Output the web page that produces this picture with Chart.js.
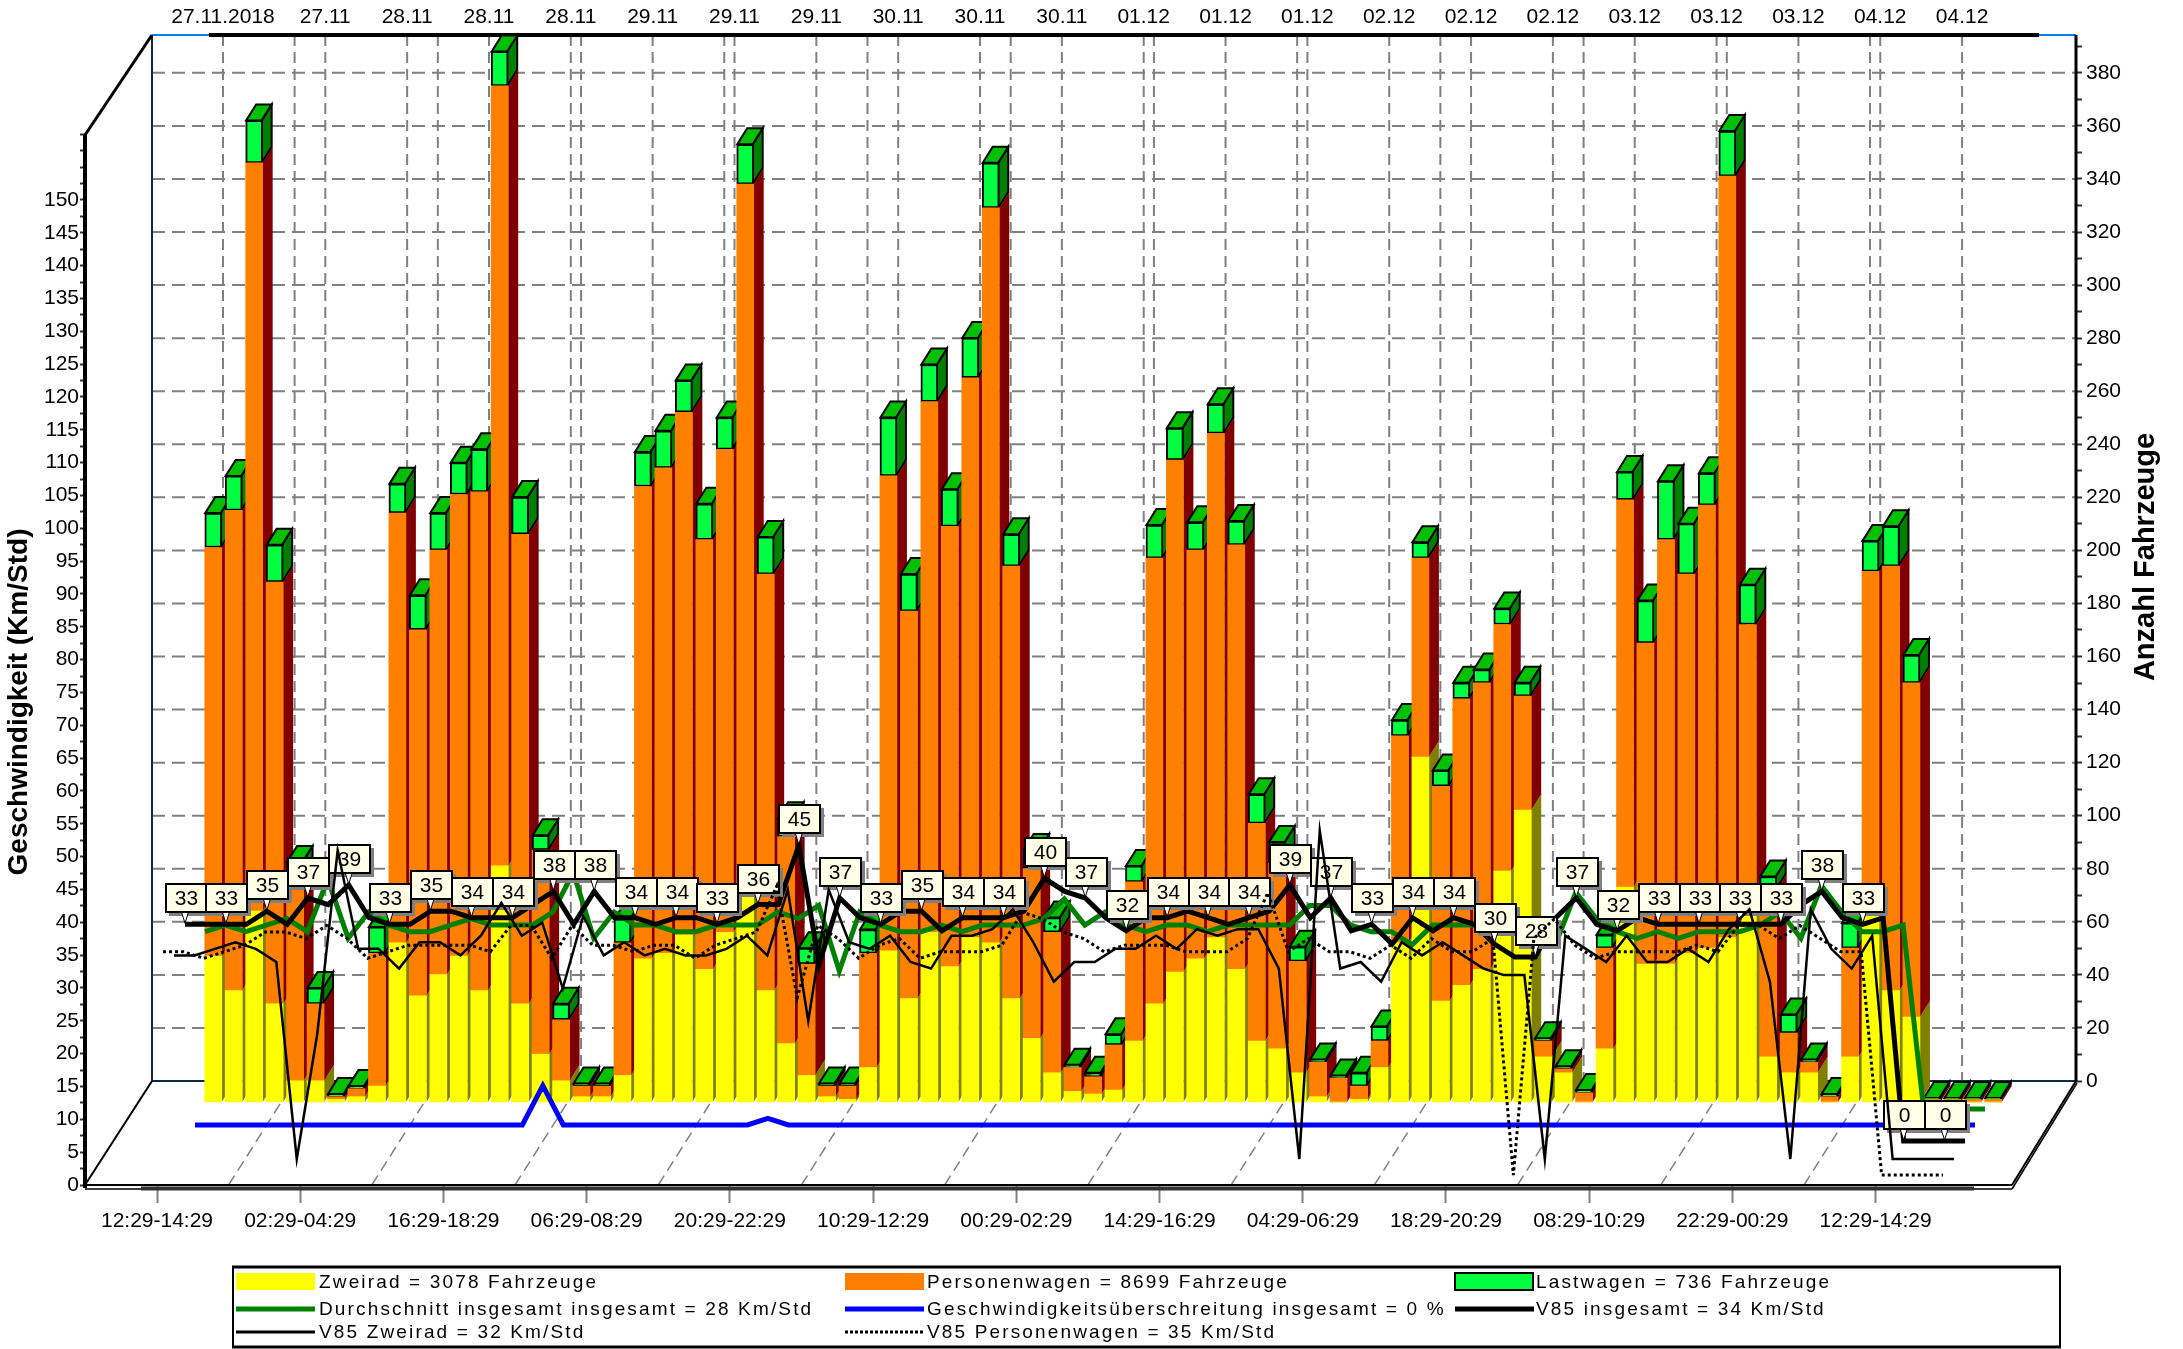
<!DOCTYPE html>
<html><head><meta charset="utf-8">
<style>html,body{margin:0;padding:0;background:#fff}canvas{display:block}</style>
<script src="https://cdn.jsdelivr.net/npm/chart.js@4"></script>
</head><body><canvas id="c" width="2183" height="1349"></canvas>
<script>
const timeTickLabels=["12:29-14:29","02:29-04:29","16:29-18:29","06:29-08:29","20:29-22:29","10:29-12:29","00:29-02:29","14:29-16:29","04:29-06:29","18:29-20:29","08:29-10:29","22:29-00:29","12:29-14:29"];
const dateTickLabels=["27.11.2018","27.11","28.11","28.11","28.11","29.11","29.11","29.11","30.11","30.11","30.11","01.12","01.12","01.12","02.12","02.12","02.12","03.12","03.12","03.12","04.12","04.12"];
const dateTickSlots=[0,5,9,13,17,21,25,29,33,37,41,45,49,53,57,61,65,69,73,77,81,85];
const zweirad=[55,42,72,37,8,8,1,2,6,60,40,48,55,42,89,37,18,8,2,2,10,54,56,63,50,64,78,42,22,10,2,1,13,57,39,64,51,62,60,39,24,11,4,3,4.5,23,37,49,54,62,50,23,20,11,2,0,1,13,60,130,38,44,50,87,110,17,11,0,20,81,52,52,56,58,62,70,17,11,11,0,17,70,42,32,0,0,0,0];
const personenwagen=[154,181,282,159,73,29,1,3,50,162,138,160,174,188,294,177,77,23,4,4,50,178,183,197,162,182,268,157,78,42,4,5,43,179,146,200,166,211,277,163,64,53,9,6.5,17,60,168,193,154,190,160,82,70,42,13,9,5,10,78,75,81,108,108,93,43,6,1.5,3.5,38,146,121,160,143,167,287,110,63,15,4,2,41,130,160,126,1,1,1,1];
const lastwagen=[13,13,16,14,9.5,6,1,1,10,11,13,14,12,16,13,14,5.5,6,1,1,9,13,14,12,13.5,12,15,14,7,6,1,1,9,22,14,14,14,15,17,12,7,5.5,1,1.5,4,6,12.5,12,10.5,11,9,11,8,5.5,1,1,5,5.5,6,6,6,6,5,6,5,1,1,1,5,10.5,16,22,19,12,17,15,5,7,1,1,9.5,11.5,15,10.5,0.5,0.5,0.5,0.5];
const durchschnitt=[27,28,27,28,29,27,35,26,30,28,27,27,28,29,28,28,28,30,36,26,30,28,28,27,27,28,28,28,30,29,31,21,30,28,27,27,28,27,28,28,28,29,32,28,30,28,27,28,28,27,28,28,28,28,31,31,28,27,27,25,28,28,28,28,27,27,25,33,29,27,26,27,26,27,27,27,28,30,26,34,30,27,27,28,0,0,0,0];
const ueberschreitung=[0,0,0,0,0,0,0,0,0,0,0,0,0,0,0,0,0,6,0,0,0,0,0,0,0,0,0,0,1,0,0,0,0,0,0,0,0,0,0,0,0,0,0,0,0,0,0,0,0,0,0,0,0,0,0,0,0,0,0,0,0,0,0,0,0,0,0,0,0,0,0,0,0,0,0,0,0,0,0,0,0,0,0,0,0,0,0,0];
const v85Gesamt=[33,33,33,33,35,33,37,36,39,34,33,33,35,35,34,34,34,36,38,33,38,34,34,33,34,34,33,34,36,36,45,27,37,34,33,35,35,32,34,34,34,35,40,38,37,34,32,34,34,35,34,33,34,35,39,34,37,32,33,30,34,32,34,33,30,28,28,34,37,33,32,34,33,33,33,33,33,33,33,36,38,34,33,34,0,0,0,0];
const v85Zweirad=[31,31,32,33,32,30,0,19,47,32,32,29,33,33,31,34,39,34,36,26,37,31,33,31,32,31,31,32,34,31,41,21,41,33,32,34,30,29,34,34,35,38,33,27,30,30,32,32,34,32,35,34,35,35,29,0,50,29,30,27,33,31,33,31,29,28,28,0,34,32,30,34,30,30,32,30,35,38,27,0,38,32,29,34,0,0,0,0];
const v85Personenwagen=[34,34,33,34,35,37,37,36,38,36,33,34,35,35,35,35,34,38,38,33,38,35,35,34,35,35,33,35,36,37,44,27,38,36,33,35,36,33,34,34,34,35,40,39,37,36,34,35,35,35,34,34,34,36,43,34,36,34,34,33,35,33,36,34,34,36,0,36,39,35,33,34,34,34,34,35,34,38,38,36,38,36,34,34,0,0,0,0];
const legendLabels=["Zweirad = 3078 Fahrzeuge","Personenwagen = 8699 Fahrzeuge","Lastwagen = 736 Fahrzeuge","Durchschnitt insgesamt insgesamt = 28 Km/Std","Geschwindigkeitsüberschreitung insgesamt = 0 %","V85 insgesamt = 34 Km/Std","V85 Zweirad = 32 Km/Std","V85 Personenwagen = 35 Km/Std"];
const leftAxisTitle="Geschwindigkeit (Km/Std)", rightAxisTitle="Anzahl Fahrzeuge";

const FONT='"Liberation Sans", Arial, sans-serif';
const AREA={l:85,r:2076,t:35,b:1185};
const SLOT=20.46, PXKM=6.567, PXN=2.653;
const pts=a=>a.map((y,x)=>({x,y}));
// hidden scales: same chart area, each series layer sits at its own depth
function xLayer(x0){return {type:'linear',display:false,offset:false,grid:{offset:false},min:(AREA.l-x0)/SLOT,max:(AREA.r-x0)/SLOT};}
function yLayer(y0,k){return {type:'linear',display:false,min:(y0-AREA.b)/k,max:(y0-AREA.t)/k};}
const lineDs=(label,data,ax,color,w,order,dash)=>({type:'line',label,data:pts(data),xAxisID:'x'+ax,yAxisID:'y'+ax,borderColor:color,backgroundColor:color,borderWidth:w,pointRadius:0,tension:0,fill:false,order,borderDash:dash||[],borderJoinStyle:'miter',borderCapStyle:'butt',clip:false});
const barDs=(label,data,color,order,bw,th)=>({type:'bar',label,data:pts(data),xAxisID:'xB',yAxisID:'yB',backgroundColor:color,borderColor:'#000',borderWidth:bw,borderSkipped:false,grouped:false,barPercentage:1,categoryPercentage:1,maxBarThickness:th,order,stack:'s'});

const DX=10,DY=16;
function poly(ctx,p,fill,stroke){ctx.beginPath();p.forEach((q,i)=>i?ctx.lineTo(q[0],q[1]):ctx.moveTo(q[0],q[1]));ctx.closePath();if(fill){ctx.fillStyle=fill;ctx.fill();}if(stroke){ctx.strokeStyle=stroke;ctx.lineWidth=2;ctx.stroke();}}
function line(ctx,x1,y1,x2,y2,c,w,dash){ctx.save();ctx.beginPath();ctx.setLineDash(dash||[]);ctx.strokeStyle=c;ctx.lineWidth=w;ctx.moveTo(x1,y1);ctx.lineTo(x2,y2);ctx.stroke();ctx.restore();}

const frame3d={id:'frame3d',beforeDatasetsDraw(chart){
  const ctx=chart.ctx,s=chart.scales,G='#808080',BW=66,BH=104;
  const xBack=AREA.l+67,yBack=AREA.b-BH,rb=AREA.r;
  ctx.save();
  // wall grid
  for(let v=20;v<=380;v+=20){const y=s.yRight.getPixelForValue(v);line(ctx,xBack,y,rb,y,G,2,[13,7]);}
  dateTickSlots.forEach(i=>{const x=s.xTop.getPixelForValue(i);line(ctx,x,AREA.t,x,yBack,G,2,[11,6]);});
  for(let k=0;k<12;k++){const v=3.5+7*k;const xt=s.xTop.getPixelForValue(v),xf=s.xFront.getPixelForValue(v);
    line(ctx,xt,AREA.t,xt,yBack,G,2,[11,6]);line(ctx,xf,AREA.b,xf+BW,yBack,G,1.5,[11,6]);}
  // frame
  line(ctx,xBack,AREA.t,xBack,yBack,'#0b2a4a',2);
  line(ctx,xBack,yBack,rb,yBack,'#0b2a4a',2);
  line(ctx,xBack,AREA.t,rb,AREA.t,'#0080ff',2);
  line(ctx,209,AREA.t,2039,AREA.t,'#000',4);
  line(ctx,rb,AREA.t,rb,yBack,'#000',3);
  line(ctx,AREA.l,135,AREA.l,AREA.b+3,'#000',4);
  line(ctx,AREA.l,135,xBack,AREA.t,'#000',3);
  line(ctx,AREA.l,AREA.b,xBack,yBack,'#000',2);
  line(ctx,AREA.l,AREA.b,2012,AREA.b,'#000',2);
  line(ctx,AREA.l,AREA.b+4,2012,AREA.b+4,'#000',1.5);
  line(ctx,141,AREA.b+3.5,1974,AREA.b+3.5,'#333',4);
  line(ctx,2012,AREA.b,rb,yBack,'#000',2);
  line(ctx,2012,AREA.b+4,rb+1,yBack+2,'#000',1.5);
  // bar depth faces
  const xs=s.xB,ys=s.yB,W=17;
  const N=zweirad.length;
  for(let i=0;i<N;i++){
    const c=xs.getPixelForValue(i),L=c-W/2,R=c+W/2;
    const y0=ys.getPixelForValue(0),y1=ys.getPixelForValue(zweirad[i]),y2=ys.getPixelForValue(zweirad[i]+personenwagen[i]),y3=ys.getPixelForValue(zweirad[i]+personenwagen[i]+lastwagen[i]);
    if(y1<y0)poly(ctx,[[R,y0],[R+DX,y0-DY],[R+DX,y1-DY],[R,y1]],'#808000');
    if(y2<y1)poly(ctx,[[R,y1],[R+DX,y1-DY],[R+DX,y2-DY],[R,y2]],'#800000');
    poly(ctx,[[R-1,y2],[R-1+DX,y2-DY],[R-1+DX,y3-DY],[R-1,y3]],'#008000','#000');
    poly(ctx,[[L+.5,y3],[L+.5+DX,y3-DY],[R-1+DX,y3-DY],[R-1,y3]],'#00c000','#000');
  }
  ctx.restore();
},
afterDatasetDraw(chart,args){
  if(chart.data.datasets[args.index].label!==legendLabels[5])return;
  const ctx=chart.ctx,xs=chart.scales.xV,ys=chart.scales.yV;
  ctx.save();
  for(let i=0;i<v85Gesamt.length;i+=2){
    const v=v85Gesamt[i],x=xs.getPixelForValue(i),y=ys.getPixelForValue(v);
    const bw=41,bh=28,bx=Math.round(x-bw/2+1),by=Math.round(y-12-bh);
    ctx.fillStyle='#808080';ctx.fillRect(bx+3,by+3,bw+1,bh+1);
    poly(ctx,[[x-3.5,by+bh],[x+3.5,by+bh],[x,y-1]],'#fff');
    ctx.strokeStyle='#000';ctx.lineWidth=1;ctx.beginPath();ctx.moveTo(x-3.5,by+bh);ctx.lineTo(x,y-1);ctx.lineTo(x+3.5,by+bh);ctx.stroke();
    ctx.fillStyle='#ffffe8';ctx.fillRect(bx,by,bw,bh);
    ctx.strokeStyle='#000';ctx.lineWidth=2;ctx.strokeRect(bx,by,bw,bh);
    ctx.fillStyle='#000';ctx.font='21px '+FONT;ctx.textAlign='center';ctx.textBaseline='middle';
    ctx.fillText(String(v),bx+bw/2,by+bh/2+1);
  }
  ctx.restore();
},
afterDraw(chart){
  const ctx=chart.ctx;
  ctx.save();
  ctx.fillStyle='#000';ctx.textAlign='center';ctx.textBaseline='middle';
  ctx.font='bold 28px '+FONT;
  ctx.save();ctx.translate(19,702);ctx.rotate(-Math.PI/2);ctx.fillText(leftAxisTitle,0,0);ctx.restore();
  ctx.font='bold 29px '+FONT;
  ctx.save();ctx.translate(2146,557);ctx.rotate(-Math.PI/2);ctx.fillText(rightAxisTitle,0,0);ctx.restore();
  // legend
  ctx.fillStyle='#fff';ctx.fillRect(233,1267,1827,80);
  ctx.strokeStyle='#000';ctx.lineWidth=2;ctx.strokeRect(233,1267,1827,80);
  line(ctx,232,1267,2061,1267,'#000',3);line(ctx,232,1347,2061,1347,'#000',3);
  const cols=[236,845,1455],rows=[1282,1309,1332];
  const tx=[319,927,1536];
  ctx.fillStyle='#ffff00';ctx.fillRect(cols[0],1273,79,17);
  ctx.fillStyle='#ff8000';ctx.fillRect(cols[1],1273,79,17);
  ctx.fillStyle='#00ff40';ctx.fillRect(cols[2],1273,78,17);ctx.strokeStyle='#000';ctx.lineWidth=2;ctx.strokeRect(cols[2],1273,78,17);
  line(ctx,cols[0],rows[1],cols[0]+79,rows[1],'#008000',5);
  line(ctx,cols[1],rows[1],cols[1]+79,rows[1],'#0000ff',5);
  line(ctx,cols[2],rows[1],cols[2]+79,rows[1],'#000',5);
  line(ctx,cols[0],rows[2],cols[0]+79,rows[2],'#000',3);
  line(ctx,cols[1],rows[2],cols[1]+79,rows[2],'#000',3,[3,2]);
  ctx.fillStyle='#000';ctx.font='19px '+FONT;ctx.textAlign='left';ctx.textBaseline='middle';
  ctx.letterSpacing='2.15px';
  legendLabels.forEach((t,i)=>{const c=i%3,r=Math.floor(i/3);ctx.fillText(t,tx[c],rows[r]+1);});
  ctx.letterSpacing='0px';
  ctx.restore();
}};

new Chart(document.getElementById('c'),{
  type:'bar',
  plugins:[frame3d],
  data:{datasets:[
    barDs(legendLabels[0],zweirad,'#ffff00',10,0,17),
    barDs(legendLabels[1],personenwagen,'#ff8000',11,0,17),
    barDs(legendLabels[2],lastwagen,'#00ff40',12,2,17),
    lineDs(legendLabels[3],durchschnitt,'A','#008000',5,6),
    lineDs(legendLabels[4],ueberschreitung,'S','#0000ff',5,5),
    lineDs(legendLabels[5],v85Gesamt,'V','#000000',5,4),
    lineDs(legendLabels[6],v85Zweirad,'Z','#000000',2.5,3),
    lineDs(legendLabels[7],v85Personenwagen,'P','#000000',3,2,[3,3])
  ]},
  options:{
    responsive:false,animation:false,events:[],
    layout:{padding:0},
    plugins:{legend:{display:false},title:{display:false},tooltip:{enabled:false}},
    scales:{
      xFront:{type:'linear',position:'bottom',offset:false,min:(AREA.l-157)/SLOT,max:(AREA.r-157)/SLOT,
        afterBuildTicks:s=>{s.ticks=timeTickLabels.map((_,k)=>({value:k*7}));},
        afterFit:s=>{s.height=164;},
        border:{display:false},
        grid:{offset:false,drawOnChartArea:false,drawTicks:true,tickLength:18,tickColor:'#808080',tickWidth:2},
        ticks:{autoSkip:false,maxRotation:0,minRotation:0,color:'#000',font:{family:FONT,size:21},padding:6,callback:(v,i)=>timeTickLabels[i]}},
      xTop:{type:'linear',position:'top',offset:false,min:(AREA.l-223)/SLOT,max:(AREA.r-223)/SLOT,
        afterBuildTicks:s=>{s.ticks=dateTickSlots.map(value=>({value}));},
        afterFit:s=>{s.height=35;},
        border:{display:false},grid:{offset:false,display:false},
        ticks:{autoSkip:false,maxRotation:0,minRotation:0,color:'#000',font:{family:FONT,size:21},padding:-3,callback:(v,i)=>dateTickLabels[i]}},
      yLeft:{type:'linear',position:'left',min:0,max:(AREA.b-AREA.t)/PXKM,
        afterBuildTicks:s=>{const t=[];for(let v=0;v<=160;v+=2.5)t.push({value:v});s.ticks=t;},
        afterFit:s=>{s.width=85;},
        border:{display:false},
        grid:{drawOnChartArea:false,tickLength:5,tickColor:'#333',tickWidth:2},
        ticks:{autoSkip:false,color:'#000',font:{family:FONT,size:21},padding:1,callback:v=>(v%5===0&&v<=150)?String(v):''}},
      yRight:{type:'linear',position:'right',min:-(AREA.b-1081)/PXN,max:(1081-AREA.t)/PXN,
        afterBuildTicks:s=>{const t=[];for(let v=0;v<=390;v+=10)t.push({value:v});s.ticks=t;},
        afterFit:s=>{s.width=107;},
        border:{display:false},
        grid:{drawOnChartArea:false,tickLength:6,tickColor:'#333',tickWidth:2},
        ticks:{autoSkip:false,color:'#000',font:{family:FONT,size:21},padding:4,callback:v=>v%20===0?String(v):''}},
      xB:Object.assign(xLayer(213.25),{stacked:true}),
      yB:Object.assign(yLayer(1102,PXN),{stacked:true}),
      xA:xLayer(205),yA:yLayer(1109,PXKM),
      xS:xLayer(195),yS:yLayer(1125,PXKM),
      xV:xLayer(185),yV:yLayer(1141,PXKM),
      xZ:xLayer(174),yZ:yLayer(1159,PXKM),
      xP:xLayer(163),yP:yLayer(1175,PXKM)
    }
  }
});
</script></body></html>
